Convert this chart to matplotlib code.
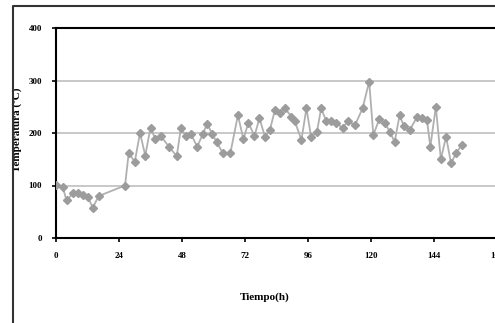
import matplotlib
matplotlib.use("Agg")
import matplotlib.pyplot as plt
from matplotlib.lines import Line2D

# Tiempo (h) y temperatura (ºC)
hours = [0, 2.5, 4, 6.5, 8.3, 10.2, 12.1, 14, 16.3, 26.3, 27.7, 30, 32, 34,
         36, 37.9, 40, 43, 46, 47.6, 49.4, 51.3, 53.8, 56, 57.6, 59.4, 61.3,
         63.6, 66.4, 69.3, 71.4, 73.3, 75.6, 77.5, 79.6, 81.5, 83.4, 85.3,
         87.2, 89.7, 91, 93.5, 95.4, 97.2, 99.4, 101, 103, 104.8, 106.7,
         109.2, 111.1, 113.9, 116.8, 119.3, 120.9, 123.1, 125.2, 127.2, 129,
         130.9, 132.5, 134.8, 137.6, 139.5, 141.3, 142.6, 144.7, 146.6,
         148.6, 150.5, 152.3, 154.6]
temps = [101, 98, 72, 85, 86, 82, 78, 58, 80, 100, 162, 145, 200, 157,
         210, 188, 194, 174, 156, 210, 194, 199, 174, 199, 218, 199, 182,
         161, 161, 234, 188, 220, 194, 228, 193, 206, 244, 239,
         247, 231, 222, 187, 247, 192, 202, 247, 222, 222, 220,
         209, 222, 215, 247, 298, 196, 226, 220, 202, 183,
         234, 213, 206, 231, 228, 225, 174, 250, 150,
         193, 142, 161, 177]

x_ticks = [0, 24, 48, 72, 96, 120, 144, 168]
y_ticks = [0, 100, 200, 300, 400]

fig = plt.figure(figsize=(4.95, 3.23), dpi=100)
fig.patch.set_facecolor("white")

# marco exterior del grafico (solo se ven los bordes izquierdo y superior)
fx, fy = 13 / 495, 1 - 6 / 323
fig.lines.append(Line2D([fx, fx, 1.0], [0.0, fy, fy],
                        transform=fig.transFigure, color="#333333",
                        linewidth=1.5))

ax = fig.add_axes([56 / 495, 1 - 238 / 323, 441 / 495, 210 / 323])

for y in [100, 200, 300]:
    ax.axhline(y, color="#c4c4c4", linewidth=1.3, zorder=1)

ax.plot(hours, temps, color="#b0b0b0", linewidth=1.3, marker="D",
        markersize=4, markerfacecolor="#9c9c9c", markeredgecolor="#9c9c9c",
        zorder=3)

ax.set_xlim(0, 168)
ax.set_ylim(0, 400)
ax.set_xticks(x_ticks)
ax.set_yticks(y_ticks)

serif = ["Liberation Serif", "DejaVu Serif"]
ax.set_xticklabels([str(t) for t in x_ticks], family=serif, fontsize=6.5,
                   fontweight="bold")
ax.set_yticklabels([str(t) for t in y_ticks], family=serif, fontsize=6.5,
                   fontweight="bold")
ax.tick_params(direction="out", length=3, width=1.2, color="black", pad=7)

for side in ["left", "bottom", "top"]:
    ax.spines[side].set_linewidth(1.5)
    ax.spines[side].set_color("black")
ax.spines["right"].set_visible(False)

ax.set_xlabel("Tiempo(h)", family=serif, fontsize=8, fontweight="bold")
ax.set_ylabel("Temperatura (ºC)", family=serif, fontsize=8,
              fontweight="bold")
ax.xaxis.set_label_coords((265 - 56) / 441, -(292 - 238) / 210)
ax.yaxis.set_label_coords(-(56 - 22) / 441, (238 - 130) / 210)

fig.savefig("out.png", dpi=100)
